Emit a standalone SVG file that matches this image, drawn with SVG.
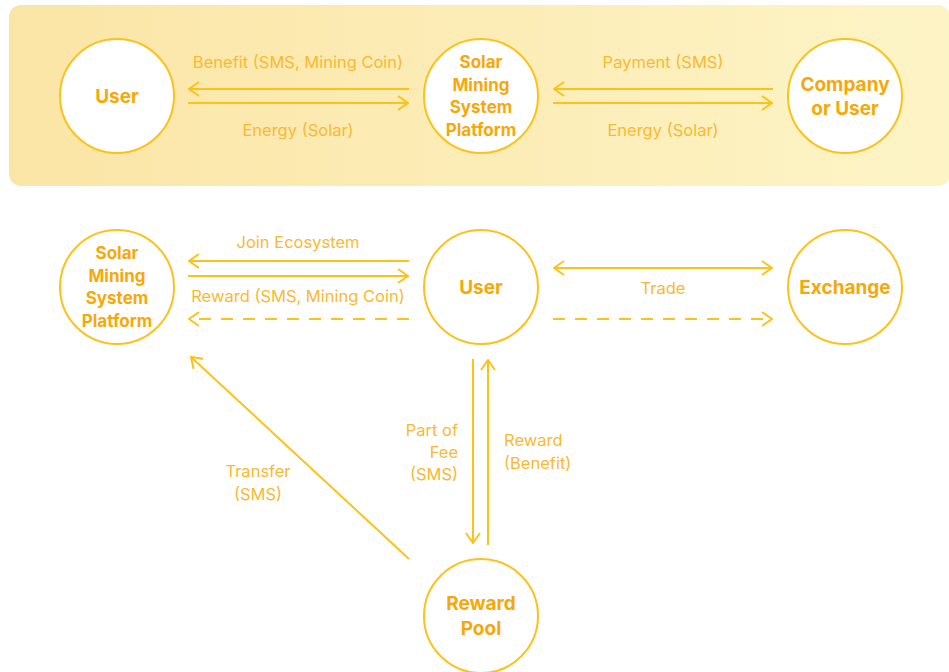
<svg xmlns="http://www.w3.org/2000/svg" width="949" height="672" viewBox="0 0 949 672">
<defs>
<linearGradient id="bg" x1="0" y1="0" x2="1" y2="0">
<stop offset="0" stop-color="#fbe5a6"/>
<stop offset="1" stop-color="#fdf4c6"/>
</linearGradient>
<marker id="ah" viewBox="0 0 12 16" refX="11" refY="8" markerWidth="12" markerHeight="16" markerUnits="userSpaceOnUse" orient="auto-start-reverse">
<path d="M1,1 L11,8 L1,15" fill="none" stroke="#fcc21c" stroke-width="2"/>
</marker>
<style>
.node circle{fill:#fff;stroke:#fcc21c;stroke-width:2}
.nt{font-family:Inter,"Liberation Sans",sans-serif;font-weight:700;fill:#f7a808;text-anchor:middle}
.lb{font-family:Inter,"Liberation Sans",sans-serif;font-size:16.5px;fill:#f9b933}
.ln{fill:none;stroke:#fcc21c;stroke-width:2}
.dash{stroke-dasharray:12 10}
</style>
</defs>
<rect x="9" y="5" width="941" height="181" rx="12" fill="url(#bg)"/>

<g id="connectors">
<path class="ln" d="M409,89 H189" marker-end="url(#ah)"/>
<path class="ln" d="M188,103 H408" marker-end="url(#ah)"/>
<path class="ln" d="M773,89 H554" marker-end="url(#ah)"/>
<path class="ln" d="M553,103 H772" marker-end="url(#ah)"/>
<path class="ln" d="M409,261 H189" marker-end="url(#ah)"/>
<path class="ln" d="M188,276 H408" marker-end="url(#ah)"/>
<path class="ln dash" d="M409,319 H189" marker-end="url(#ah)"/>
<path class="ln" d="M554,268 H772" marker-start="url(#ah)" marker-end="url(#ah)"/>
<path class="ln dash" d="M553,319 H772" marker-end="url(#ah)"/>
<path class="ln" d="M473,359 V543" marker-end="url(#ah)"/>
<path class="ln" d="M488,545 V360" marker-end="url(#ah)"/>
<path class="ln" d="M409,559 L191,357" marker-end="url(#ah)"/>
<text class="lb" x="298" y="68" text-anchor="middle">Benefit (SMS, Mining Coin)</text>
<text class="lb" x="298" y="136" text-anchor="middle">Energy (Solar)</text>
<text class="lb" x="663" y="68" text-anchor="middle">Payment (SMS)</text>
<text class="lb" x="663" y="136" text-anchor="middle">Energy (Solar)</text>
<text class="lb" x="298" y="248" text-anchor="middle">Join Ecosystem</text>
<text class="lb" x="298" y="302" text-anchor="middle">Reward (SMS, Mining Coin)</text>
<text class="lb" x="663" y="294" text-anchor="middle">Trade</text>
<text class="lb" text-anchor="end"><tspan x="458" y="436">Part of</tspan><tspan x="458" y="458">Fee</tspan><tspan x="458" y="480">(SMS)</tspan></text>
<text class="lb"><tspan x="504" y="446">Reward</tspan><tspan x="504" y="469">(Benefit)</tspan></text>
<text class="lb" text-anchor="middle"><tspan x="258" y="477">Transfer</tspan><tspan x="258" y="500">(SMS)</tspan></text>
</g>

<g id="top-user" class="node"><circle cx="117" cy="96" r="57"/><text class="nt" x="117" y="103" font-size="19">User</text></g>
<g id="top-platform" class="node"><circle cx="481" cy="96" r="57"/><text class="nt" font-size="17"><tspan x="481" y="68">Solar</tspan><tspan x="481" y="90.5">Mining</tspan><tspan x="481" y="113">System</tspan><tspan x="481" y="135.5">Platform</tspan></text></g>
<g id="top-company" class="node"><circle cx="845" cy="96" r="57"/><text class="nt" font-size="19"><tspan x="845" y="91">Company</tspan><tspan x="845" y="115">or User</tspan></text></g>

<g id="platform" class="node"><circle cx="117" cy="287" r="57"/><text class="nt" font-size="17"><tspan x="117" y="259">Solar</tspan><tspan x="117" y="281.5">Mining</tspan><tspan x="117" y="304">System</tspan><tspan x="117" y="326.5">Platform</tspan></text></g>
<g id="user" class="node"><circle cx="481" cy="287" r="57"/><text class="nt" x="481" y="294" font-size="19">User</text></g>
<g id="exchange" class="node"><circle cx="845" cy="287" r="57"/><text class="nt" x="845" y="294" font-size="19">Exchange</text></g>
<g id="reward-pool" class="node"><circle cx="481" cy="616" r="57"/><text class="nt" font-size="19"><tspan x="481" y="610">Reward</tspan><tspan x="481" y="635">Pool</tspan></text></g>
</svg>
